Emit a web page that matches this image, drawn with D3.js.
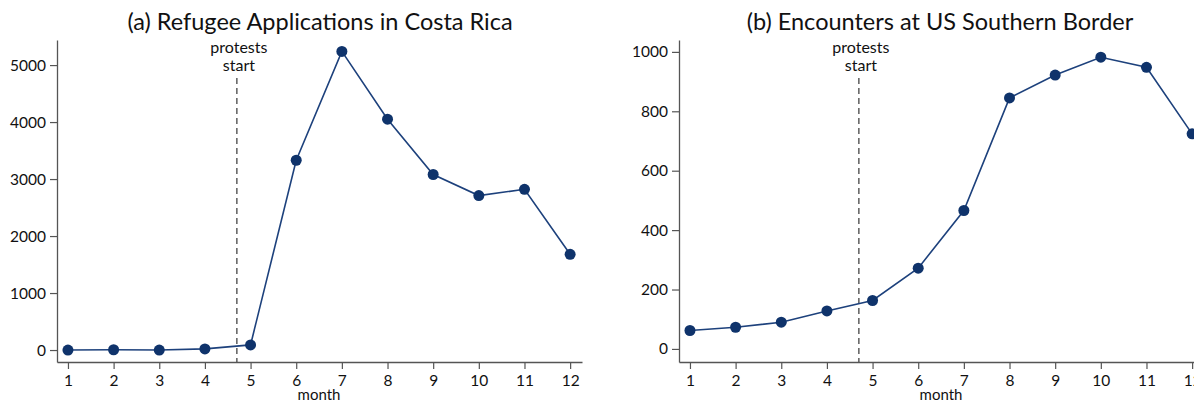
<!DOCTYPE html>
<html>
<head>
<meta charset="utf-8">
<script src="https://cdn.jsdelivr.net/npm/d3@7"></script>
<style>
  html, body { margin: 0; padding: 0; background: #fff; }
  svg { display: block; font-family: Lato, "Open Sans", sans-serif; }
</style>
</head>
<body>
<svg id="chart" width="1194" height="404"></svg>
<script>
// ---- data ----
const months = [1, 2, 3, 4, 5, 6, 7, 8, 9, 10, 11, 12];
const refugeeApplications = [0, 5, 0, 20, 90, 3330, 5240, 4050, 3080, 2710, 2820, 1680];
const borderEncounters = [62, 73, 90, 128, 163, 272, 466, 845, 922, 982, 948, 724];
const refugeeTicks = [0, 1000, 2000, 3000, 4000, 5000];
const encounterTicks = [0, 200, 400, 600, 800, 1000];
const protestMonth = 4.7;
const titles = ["(a) Refugee Applications in Costa Rica", "(b) Encounters at US Southern Border"];
const xLabel = "month";
const eventLabel = ["protests", "start"];

const svg = d3.select("#chart");
const navy = "#0f336b";
const lineCol = "#1d417c";
const axisCol = "#555";

function panel(cfg) {
  const g = svg.append("g");
  const x = d3.scaleLinear().domain([0.76, 12.26]).range([cfg.left, cfg.left + 525]);
  const y = d3.scaleLinear().domain(cfg.yDomain).range([362, 40]);

  // title
  g.append("text").attr("x", cfg.titleX).attr("y", 30)
    .attr("text-anchor", "middle").attr("font-size", 23.5).attr("fill", "#111")
    .text(cfg.title);

  // axes
  const yAxis = g.append("g").attr("transform", `translate(${cfg.left},0)`)
    .call(d3.axisLeft(y).tickValues(cfg.ticks).tickSize(7).tickSizeOuter(0).tickPadding(4).tickFormat(d3.format("d")));
  const xAxis = g.append("g").attr("transform", `translate(0,362)`)
    .call(d3.axisBottom(x).tickValues(months).tickSize(7).tickSizeOuter(0).tickPadding(6).tickFormat(d3.format("d")));
  [yAxis, xAxis].forEach(a => {
    a.selectAll("path.domain").attr("stroke", axisCol).attr("stroke-width", 1.3);
    a.selectAll(".tick line").attr("stroke", axisCol).attr("stroke-width", 1.2);
    a.selectAll(".tick text").attr("font-size", 15.5).attr("fill", "#111").attr("font-family", "Lato, sans-serif");
  });

  // x label
  g.append("text").attr("x", x(6.5)).attr("y", 400)
    .attr("text-anchor", "middle").attr("font-size", 15).attr("fill", "#111").text(xLabel);

  // event line
  const px = x(protestMonth);
  g.append("line").attr("x1", px).attr("x2", px).attr("y1", 78).attr("y2", 362)
    .attr("stroke", "#444").attr("stroke-width", 1.3).attr("stroke-dasharray", "6,4");
  g.append("text").attr("x", px + 2).attr("y", 53).attr("text-anchor", "middle")
    .attr("font-size", 16).attr("fill", "#111").text(eventLabel[0]);
  g.append("text").attr("x", px + 2).attr("y", 71).attr("text-anchor", "middle")
    .attr("font-size", 16).attr("fill", "#111").text(eventLabel[1]);

  // line and markers
  const pts = months.map((m, i) => [m, cfg.values[i]]);
  g.append("path").datum(pts)
    .attr("fill", "none").attr("stroke", lineCol).attr("stroke-width", 1.6)
    .attr("d", d3.line().x(d => x(d[0])).y(d => y(d[1])));
  g.selectAll("circle.pt").data(pts).enter().append("circle")
    .attr("class", "pt")
    .attr("cx", d => x(d[0])).attr("cy", d => y(d[1])).attr("r", 5.5)
    .attr("fill", navy);
}

panel({ left: 57, titleX: 320, title: titles[0], values: refugeeApplications,
        ticks: refugeeTicks, yDomain: [-210, 5440] });
panel({ left: 679, titleX: 940, title: titles[1], values: borderEncounters,
        ticks: encounterTicks, yDomain: [-44, 1040] });
</script>
</body>
</html>
